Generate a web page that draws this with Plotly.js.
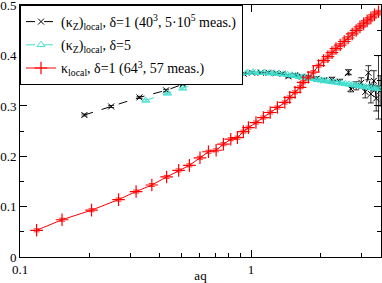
<!DOCTYPE html>
<html>
<head>
<meta charset="utf-8">
<script src="https://cdn.plot.ly/plotly-3.0.1.min.js"></script>
<style>html,body{margin:0;padding:0;background:#fff;}#chart{width:382px;height:283px;}</style>
</head>
<body>
<div id="chart"></div>
<script>
// kappa_Z local, delta=1 (40^3)
const blackX = [0.190, 0.248, 0.329, 0.429, 0.506, 0.586, 0.64, 0.70, 0.77, 0.85, 0.93, 1.01, 1.10, 1.19, 1.28, 1.37, 1.45, 1.55, 1.66, 1.78, 1.92, 2.07, 2.24, 2.42, 2.64, 2.70, 2.85, 3.00, 3.12, 3.22, 3.30, 3.40, 3.48, 3.56, 3.62];
const blackY = [0.282, 0.299, 0.317, 0.331, 0.343, 0.349, 0.353, 0.356, 0.359, 0.362, 0.364, 0.366, 0.366, 0.366, 0.365, 0.364, 0.359, 0.361, 0.358, 0.356, 0.354, 0.351, 0.352, 0.348, 0.367, 0.334, 0.340, 0.346, 0.328, 0.366, 0.324, 0.350, 0.315, 0.337, 0.330];
const blackErr = [0.002, 0.002, 0.002, 0.002, 0.002, 0.002, 0.002, 0.002, 0.002, 0.002, 0.002, 0.002, 0.002, 0.002, 0.002, 0.002, 0.003, 0.003, 0.003, 0.003, 0.004, 0.004, 0.005, 0.005, 0.005, 0.006, 0.008, 0.010, 0.012, 0.014, 0.018, 0.020, 0.025, 0.063, 0.030];
// kappa_Z local, delta=5
const cyanX = [0.350, 0.435, 0.506, 0.586, 0.625, 0.69, 0.76, 0.83, 0.90, 0.96, 1.02, 1.08, 1.14, 1.20, 1.26, 1.32, 1.38, 1.44, 1.50, 1.56, 1.62, 1.68, 1.74, 1.80, 1.87, 1.94, 2.01, 2.08, 2.15, 2.23, 2.31, 2.39, 2.47, 2.56, 2.65, 2.74, 2.83, 2.93, 3.03, 3.13, 3.24, 3.35, 3.46, 3.58];
const cyanY = [0.311, 0.325, 0.335, 0.347, 0.352, 0.355, 0.359, 0.362, 0.364, 0.366, 0.367, 0.366, 0.366, 0.365, 0.365, 0.364, 0.363, 0.362, 0.361, 0.360, 0.358, 0.357, 0.356, 0.355, 0.354, 0.352, 0.351, 0.350, 0.349, 0.348, 0.347, 0.346, 0.345, 0.344, 0.343, 0.342, 0.341, 0.340, 0.339, 0.338, 0.337, 0.336, 0.335, 0.334];
// kappa local, delta=1 (64^3)
const redX = [0.118, 0.152, 0.204, 0.267, 0.318, 0.372, 0.431, 0.486, 0.541, 0.601, 0.654, 0.706, 0.759, 0.817, 0.873, 0.926, 0.974, 1.05, 1.13, 1.21, 1.30, 1.40, 1.47, 1.55, 1.63, 1.68, 1.77, 1.86, 1.96, 2.06, 2.15, 2.24, 2.33, 2.43, 2.53, 2.63, 2.74, 2.85, 2.96, 3.07, 3.18, 3.30, 3.42, 3.56];
const redY = [0.053, 0.074, 0.093, 0.114, 0.130, 0.143, 0.159, 0.172, 0.182, 0.197, 0.209, 0.212, 0.224, 0.234, 0.237, 0.249, 0.257, 0.267, 0.277, 0.287, 0.297, 0.307, 0.317, 0.327, 0.337, 0.347, 0.357, 0.367, 0.380, 0.390, 0.398, 0.406, 0.414, 0.421, 0.428, 0.435, 0.443, 0.450, 0.457, 0.463, 0.469, 0.475, 0.481, 0.487];
const redErr = redY.map(() => 0.003);

const legendNames = [
  '(κ<sub>Z</sub>)<sub>local</sub>, δ=1 (40<sup>3</sup>, 5·10<sup>5</sup> meas.)',
  '(κ<sub>Z</sub>)<sub>local</sub>, δ=5',
  'κ<sub>local</sub>, δ=1 (64<sup>3</sup>, 57 meas.)'
];
const xTickVals = [0.1, 1];
const xTickText = ['0.1', '1'];
const xMinorVals = [0.2, 0.3, 0.4, 0.5, 0.6, 0.7, 0.8, 0.9, 2, 3];
const yTickVals = [0, 0.1, 0.2, 0.3, 0.4, 0.5];
const yTickText = ['0', '0.1', '0.2', '0.3', '0.4', '0.5'];

const CYAN = '#40e0d0';
const traces = [
  {x: blackX, y: blackY, name: legendNames[0], legendgroup: 'a', type: 'scatter', mode: 'lines+markers',
   line: {color: '#000', width: 1, dash: 'dash'},
   marker: {symbol: 'x-thin-open', size: 6, line: {color: '#000', width: 1}},
   error_y: {type: 'data', array: blackErr, color: '#000', thickness: 0.8, width: 3}},
  {x: cyanX, y: cyanY, name: legendNames[1], legendgroup: 'b', type: 'scatter', mode: 'lines+markers',
   line: {color: CYAN, width: 1, dash: 'dash'},
   marker: {symbol: 'triangle-up-open', size: 7, color: CYAN, line: {color: CYAN, width: 1}},
   error_y: {type: 'data', array: cyanY.map(() => 0.002), color: CYAN, thickness: 0.8, width: 3}},
  {x: redX, y: redY, name: legendNames[2], legendgroup: 'c', type: 'scatter', mode: 'lines+markers',
   line: {color: '#ff0000', width: 1},
   marker: {symbol: 'cross-thin-open', size: 9, color: '#ff0000', line: {color: '#ff0000', width: 1.2}},
   error_y: {type: 'data', array: redErr, color: '#ff0000', thickness: 0.8, width: 3}}
];

const font = {family: '"Liberation Serif", "DejaVu Serif", serif', size: 13, color: '#000'};
const legFont = {family: '"Liberation Serif", "DejaVu Serif", serif', size: 14, color: '#000'};
const layout = {
  width: 382, height: 283,
  margin: {l: 20, r: 1, t: 5, b: 26, pad: 0},
  paper_bgcolor: '#fff', plot_bgcolor: '#fff',
  font: font,
  showlegend: true,
  legend: {x: 0, y: 1, xanchor: 'left', yanchor: 'top', bgcolor: '#fff',
           bordercolor: '#000', borderwidth: 1, font: legFont,
           tracegroupgap: 2, itemwidth: 30},
  xaxis: {type: 'log', range: [-1, Math.log10(3.65)],
          tickmode: 'array', tickvals: xTickVals, ticktext: xTickText,
          ticks: 'inside', ticklen: 7, tickcolor: '#000', tickwidth: 1,
          minor: {tickmode: 'array', tickvals: xMinorVals, ticks: 'inside', ticklen: 4, tickcolor: '#000', tickwidth: 1, showgrid: false},
          showline: true, linecolor: '#000', linewidth: 1, mirror: 'ticks',
          showgrid: false, zeroline: false, ticklabeloverflow: 'allow',
          title: {text: 'aq', font: font, standoff: 2},
          automargin: false},
  yaxis: {range: [0, 0.5005],
          tickmode: 'array', tickvals: yTickVals, ticktext: yTickText,
          ticks: 'inside', ticklen: 7, tickcolor: '#000', tickwidth: 1,
          minor: {dtick: 0.05, ticks: 'inside', ticklen: 4, tickcolor: '#000', tickwidth: 1, showgrid: false},
          showline: true, linecolor: '#000', linewidth: 1, mirror: 'ticks',
          showgrid: false, zeroline: false, automargin: false, ticklabeloverflow: 'allow'}
};
Plotly.newPlot('chart', traces, layout, {staticPlot: true, displayModeBar: false});
</script>
</body>
</html>
